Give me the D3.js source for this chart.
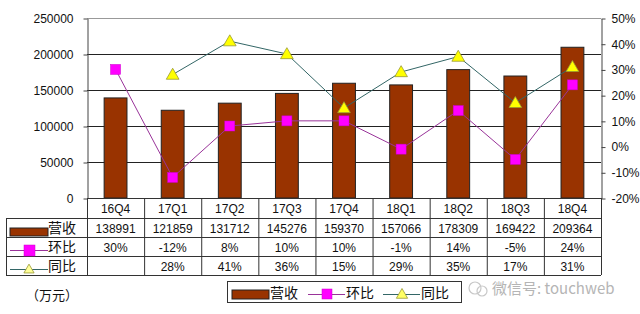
<!DOCTYPE html>
<html>
  <head>
    <meta charset="utf-8" />
    <title>营收 环比 同比</title>
    <style>
      html, body {
        margin: 0;
        padding: 0;
        background: white;
      }
      svg text {
        font-family: "Liberation Sans", "DejaVu Sans", "Noto Sans CJK SC", sans-serif;
        font-size: 12px;
        fill: #111;
      }
      .cn {
        font-family: "Noto Sans CJK SC", sans-serif;
        font-size: 14px;
      }
    </style>
  </head>
  <body>
    <script src="https://d3js.org/d3.v7.min.js"></script>
    <script>
      var quarters = ["16Q4", "17Q1", "17Q2", "17Q3", "17Q4", "18Q1", "18Q2", "18Q3", "18Q4"];
      var revenue = [138991, 121859, 131712, 145276, 159370, 157066, 178309, 169422, 209364];
      var qoq = [30, -12, 8, 10, 10, -1, 14, -5, 24];
      var yoy = [null, 28, 41, 36, 15, 29, 35, 17, 31];
      var leftTicks = [0, 50000, 100000, 150000, 200000, 250000];
      var rightTicks = [-20, -10, 0, 10, 20, 30, 40, 50];

      var w = 640, h = 314;
      var pLeft = 87, pRight = 601, pTop = 18, pBottom = 198;
      var rowH = [20, 19, 19, 19];

      var svg = d3.select("body").append("svg")
        .attr("width", w)
        .attr("height", h);

      var x = d3.scaleBand().domain(quarters).range([pLeft, pRight]).padding(0);
      var yL = d3.scaleLinear().domain([0, 250000]).range([pBottom, pTop]);
      var yR = d3.scaleLinear().domain([-20, 50]).range([pBottom, pTop]);

      // gridlines
      svg.append("g")
        .selectAll("line")
        .data(leftTicks.slice(1))
        .enter()
        .append("line")
        .attr("x1", pLeft)
        .attr("x2", pRight)
        .attr("y1", function (d) { return yL(d) + 0.5; })
        .attr("y2", function (d) { return yL(d) + 0.5; })
        .attr("stroke", function (d) { return d === 250000 ? "#999" : "#222"; })
        .attr("stroke-width", 1);

      // left axis
      var axL = svg.append("g")
        .attr("transform", "translate(" + (pLeft + 0.5) + ",0.5)")
        .call(d3.axisLeft(yL).tickValues(leftTicks).tickSize(4).tickSizeOuter(0).tickPadding(10).tickFormat(d3.format("d")));
      axL.selectAll("line, path").attr("stroke", "#444");
      axL.selectAll("text").style("font-size", "12px").style("font-family", "'Liberation Sans', sans-serif");

      // right axis
      var axR = svg.append("g")
        .attr("transform", "translate(" + (pRight + 0.5) + ",0.5)")
        .call(d3.axisRight(yR).tickValues(rightTicks).tickSize(4).tickSizeOuter(0).tickPadding(6)
          .tickFormat(function (d) { return d + "%"; }));
      axR.selectAll("line, path").attr("stroke", "#444");
      axR.selectAll("text").style("font-size", "12px").style("font-family", "'Liberation Sans', sans-serif");

      // bars
      var barW = x.bandwidth() * 0.4;
      svg.append("g")
        .selectAll("rect")
        .data(revenue)
        .enter()
        .append("rect")
        .attr("x", function (d, i) { return x(quarters[i]) + (x.bandwidth() - barW) / 2; })
        .attr("y", function (d) { return yL(d); })
        .attr("width", barW)
        .attr("height", function (d) { return pBottom - yL(d); })
        .attr("fill", "#993300")
        .attr("stroke", "#222")
        .attr("stroke-width", 1);

      var cx = function (i) { return x(quarters[i]) + x.bandwidth() / 2; };

      // yoy line
      var yoyPts = yoy.map(function (d, i) { return { i: i, v: d }; }).filter(function (d) { return d.v !== null; });
      svg.append("path")
        .datum(yoyPts)
        .attr("fill", "none")
        .attr("stroke", "#336666")
        .attr("stroke-width", 1)
        .attr("d", d3.line().x(function (d) { return cx(d.i); }).y(function (d) { return yR(d.v); }));

      // qoq line
      svg.append("path")
        .datum(qoq)
        .attr("fill", "none")
        .attr("stroke", "#993399")
        .attr("stroke-width", 1)
        .attr("d", d3.line().x(function (d, i) { return cx(i); }).y(function (d) { return yR(d); }));

      var tri = d3.symbol().type(d3.symbolTriangle).size(70);
      svg.append("g")
        .selectAll("path")
        .data(yoyPts)
        .enter()
        .append("path")
        .attr("d", tri)
        .attr("transform", function (d) { return "translate(" + cx(d.i) + "," + (yR(d.v) + 1) + ")"; })
        .attr("fill", "#ffff00")
        .attr("stroke", "#999933")
        .attr("stroke-width", 0.8);

      svg.append("g")
        .selectAll("rect")
        .data(qoq)
        .enter()
        .append("rect")
        .attr("x", function (d, i) { return cx(i) - 5; })
        .attr("y", function (d) { return yR(d) - 5; })
        .attr("width", 10)
        .attr("height", 10)
        .attr("fill", "#ff00ff")
        .attr("stroke", "#cc00cc")
        .attr("stroke-width", 0.5);

      // data table
      var tLeft = 6;
      var rowY = [pBottom, pBottom + rowH[0], pBottom + rowH[0] + rowH[1], pBottom + rowH[0] + rowH[1] + rowH[2]];
      var tBottom = rowY[3] + rowH[3];
      var table = svg.append("g").attr("stroke", "#333").attr("stroke-width", 1);

      rowY.concat([tBottom]).forEach(function (yy, k) {
        table.append("line")
          .attr("x1", k === 0 ? pLeft : tLeft)
          .attr("x2", pRight)
          .attr("y1", yy + 0.5)
          .attr("y2", yy + 0.5);
      });
      quarters.forEach(function (q) {
        table.append("line")
          .attr("x1", x(q) + 0.5).attr("x2", x(q) + 0.5)
          .attr("y1", pBottom).attr("y2", tBottom);
      });
      table.append("line")
        .attr("x1", pRight + 0.5).attr("x2", pRight + 0.5)
        .attr("y1", pBottom).attr("y2", tBottom);
      table.append("line")
        .attr("x1", tLeft + 0.5).attr("x2", tLeft + 0.5)
        .attr("y1", rowY[1]).attr("y2", tBottom);

      var cellText = function (arr, row, fmt) {
        svg.append("g")
          .selectAll("text")
          .data(arr)
          .enter()
          .append("text")
          .attr("x", function (d, i) { return cx(i); })
          .attr("y", rowY[row] + rowH[row] / 2 + 5)
          .attr("text-anchor", "middle")
          .text(fmt);
      };
      cellText(quarters, 0, function (d) { return d; });
      cellText(revenue, 1, function (d) { return d; });
      cellText(qoq, 2, function (d) { return d + "%"; });
      cellText(yoy, 3, function (d) { return d === null ? "" : d + "%"; });

      // row legend keys
      var keyX0 = 10, keyX1 = 48;
      svg.append("rect")
        .attr("x", keyX0).attr("y", rowY[1] + 10)
        .attr("width", keyX1 - keyX0).attr("height", 8)
        .attr("fill", "#993300").attr("stroke", "#222");
      svg.append("line")
        .attr("x1", keyX0).attr("x2", keyX1)
        .attr("y1", rowY[2] + 13.5).attr("y2", rowY[2] + 13.5)
        .attr("stroke", "#993399");
      svg.append("rect")
        .attr("x", 24).attr("y", rowY[2] + 8)
        .attr("width", 11).attr("height", 11)
        .attr("fill", "#ff00ff").attr("stroke", "#cc00cc").attr("stroke-width", 0.5);
      svg.append("line")
        .attr("x1", keyX0).attr("x2", keyX1)
        .attr("y1", rowY[3] + 13.5).attr("y2", rowY[3] + 13.5)
        .attr("stroke", "#336666");
      svg.append("path")
        .attr("d", d3.symbol().type(d3.symbolTriangle).size(45))
        .attr("transform", "translate(29," + (rowY[3] + 14) + ")")
        .attr("fill", "#ffff99").attr("stroke", "#999933").attr("stroke-width", 0.8);

      var rowNames = ["营收", "环比", "同比"];
      rowNames.forEach(function (n, k) {
        svg.append("text")
          .attr("class", "cn")
          .attr("x", 48)
          .attr("y", rowY[k + 1] + rowH[k + 1] / 2 + 5)
          .text(n);
      });

      // unit
      svg.append("text")
        .attr("class", "cn")
        .attr("x", 26)
        .attr("y", 300)
        .style("font-size", "13px")
        .text("（万元）");

      // bottom legend
      var lg = svg.append("g").attr("transform", "translate(227,281)");
      lg.append("rect")
        .attr("x", 0.5).attr("y", 0.5)
        .attr("width", 234).attr("height", 21)
        .attr("fill", "white").attr("stroke", "#333");
      lg.append("rect")
        .attr("x", 5).attr("y", 9).attr("width", 37).attr("height", 9)
        .attr("fill", "#993300").attr("stroke", "#222");
      lg.append("text").attr("class", "cn").attr("x", 43).attr("y", 17).text("营收");
      lg.append("line").attr("x1", 81).attr("x2", 118).attr("y1", 13.5).attr("y2", 13.5).attr("stroke", "#993399");
      lg.append("rect").attr("x", 95).attr("y", 8).attr("width", 10).attr("height", 10)
        .attr("fill", "#ff00ff").attr("stroke", "#cc00cc").attr("stroke-width", 0.5);
      lg.append("text").attr("class", "cn").attr("x", 119).attr("y", 17).text("环比");
      lg.append("line").attr("x1", 156).attr("x2", 193).attr("y1", 13.5).attr("y2", 13.5).attr("stroke", "#336666");
      lg.append("path")
        .attr("d", d3.symbol().type(d3.symbolTriangle).size(55))
        .attr("transform", "translate(175,14)")
        .attr("fill", "#ffff66").attr("stroke", "#999933").attr("stroke-width", 0.8);
      lg.append("text").attr("class", "cn").attr("x", 194).attr("y", 17).text("同比");

      // watermark
      svg.append("text")
        .attr("class", "cn")
        .attr("x", 492)
        .attr("y", 294)
        .style("font-size", "15px")
        .style("fill", "#b5b5b5")
        .text("微信号: touchweb");
      svg.append("circle").attr("cx", 475).attr("cy", 288).attr("r", 6)
        .attr("fill", "none").attr("stroke", "#c8c8c8").attr("stroke-width", 1.2);
      svg.append("circle").attr("cx", 482).attr("cy", 291).attr("r", 5)
        .attr("fill", "none").attr("stroke", "#c8c8c8").attr("stroke-width", 1.2);
    </script>
  </body>
</html>
